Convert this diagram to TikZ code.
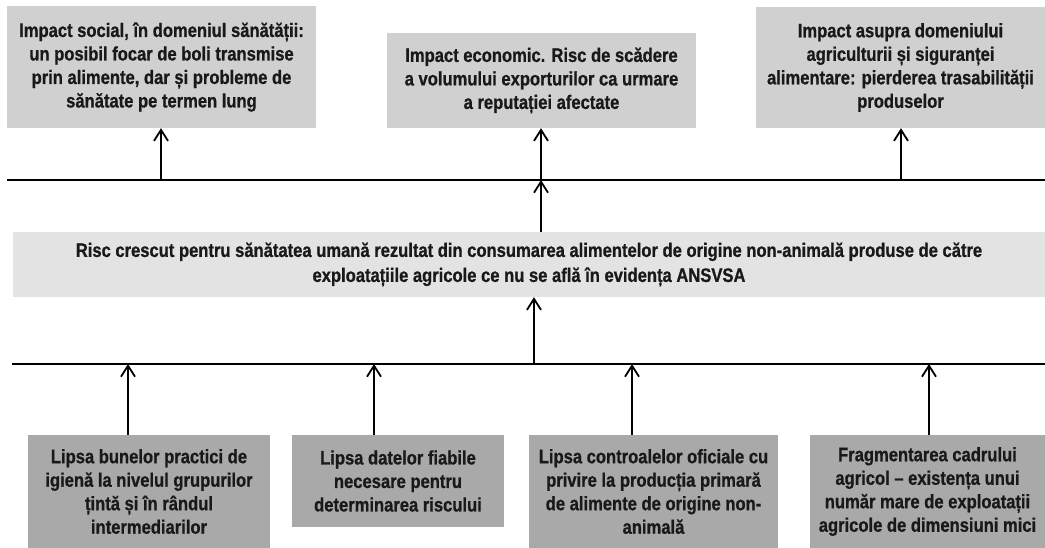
\documentclass[tikz,border=0pt]{standalone}
\usepackage{fontspec}
\setmainfont{Liberation Sans}[FakeStretch=0.85, BoldFeatures={FakeBold=0.8}]
\usetikzlibrary{arrows.meta}
\definecolor{topgray}{HTML}{D0D0D0}
\definecolor{midgray}{HTML}{E3E3E3}
\definecolor{botgray}{HTML}{A9A9A9}
\begin{document}
\begin{tikzpicture}[x=1pt,y=-1pt,
  box/.style={align=center, inner sep=0pt, font=\bfseries\fontsize{19.5}{23.5}\selectfont, text=black!90},
  topbox/.style={box, fill=topgray},
  midbox/.style={box, fill=midgray, font=\bfseries\fontsize{19.5}{25}\selectfont},
  botbox/.style={box, fill=botgray},
  bar/.style={line width=2.2pt},
  arr/.style={line width=1.8pt, -{Straight Barb[length=11pt,width=14pt,line width=1.8pt]}}]
\useasboundingbox (0,0) rectangle (1045,548);
% top boxes
\node[topbox, minimum width=309pt, minimum height=122pt] (t1) at (161.5,67) {Impact social, în domeniul sănătății:\\un posibil focar de boli transmise\\prin alimente, dar și probleme de\\sănătate pe termen lung};
\node[topbox, minimum width=309pt, minimum height=95pt] (t2) at (541.5,80.5) {Impact economic. Risc de scădere\\a volumului exporturilor ca urmare\\a reputației afectate};
\node[topbox, minimum width=289pt, minimum height=121pt] (t3) at (900.5,67.5) {Impact asupra domeniului\\agriculturii și siguranței\\alimentare: pierderea trasabilității\\produselor};
% middle box
\node[midbox, minimum width=1032pt, minimum height=65pt] (m) at (529,264.5) {Risc crescut pentru sănătatea umană rezultat din consumarea alimentelor de origine non-animală produse de către\\exploatațiile agricole ce nu se află în evidența ANSVSA};
% bottom boxes
\node[botbox, minimum width=242pt, minimum height=113pt] (b1) at (149,491.5) {Lipsa bunelor practici de\\igienă la nivelul grupurilor\\țintă și în rândul\\intermediarilor};
\node[botbox, minimum width=212pt, minimum height=92pt] (b2) at (398,481) {Lipsa datelor fiabile\\necesare pentru\\determinarea riscului};
\node[botbox, minimum width=249pt, minimum height=113pt] (b3) at (653.5,491.5) {Lipsa controalelor oficiale cu\\privire la producția primară\\de alimente de origine non-\\animală};
\node[botbox, minimum width=235pt, minimum height=113pt] (b4) at (927.5,491.5) {Fragmentarea cadrului\\agricol – existența unui\\număr mare de exploatații\\agricole de dimensiuni mici};
% lines
\coordinate (L1a) at (7,180);
\coordinate (L1b) at (1045,180);
\coordinate (L2a) at (12,364);
\coordinate (L2b) at (1045,364);
\draw[bar] (L1a) -- (L1b);
\draw[bar] (L2a) -- (L2b);
% top arrows
\coordinate (u1) at (161,180);
\coordinate (u2) at (541,180);
\coordinate (u3) at (901,180);
\draw[arr] (u1) -- (t1.south -| u1);
\draw[arr] (u2) -- (t2.south -| u2);
\draw[arr] (u3) -- (t3.south -| u3);
\draw[arr] (m.north -| u2) -- (u2);
% bottom to middle
\coordinate (d0) at (534,364);
\draw[arr] (d0) -- (m.south -| d0);
% bottom arrows
\coordinate (d1) at (128,364);
\coordinate (d2) at (374,364);
\coordinate (d3) at (632,364);
\coordinate (d4) at (929,364);
\draw[arr] (b1.north -| d1) -- (d1);
\draw[arr] (b2.north -| d2) -- (d2);
\draw[arr] (b3.north -| d3) -- (d3);
\draw[arr] (b4.north -| d4) -- (d4);
\end{tikzpicture}
\end{document}
